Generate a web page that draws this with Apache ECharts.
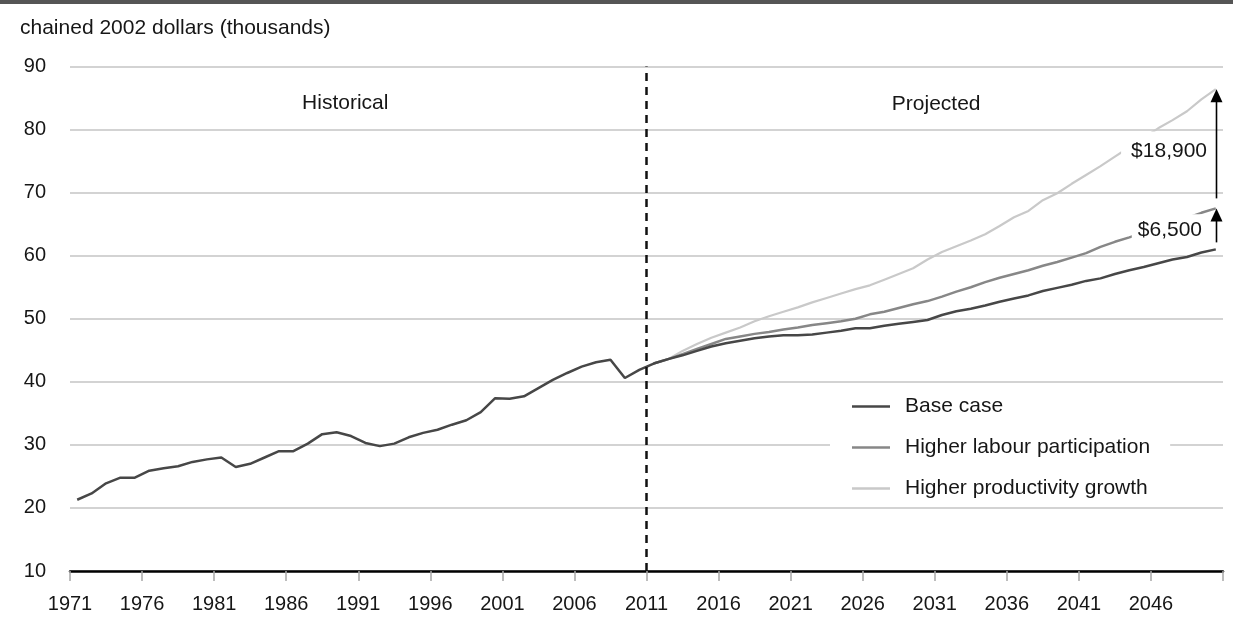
<!DOCTYPE html>
<html>
<head>
<meta charset="utf-8">
<script src="https://cdn.jsdelivr.net/npm/echarts@6/dist/echarts.min.js"></script>
<style>
  html, body { margin: 0; padding: 0; background: #fff; }
  #chart { width: 1233px; height: 617px; }
</style>
</head>
<body>
<div id="chart"></div>
<script>
// Real GDP per capita, chained 2002 dollars (thousands)
const firstYear = 1971;
const splitYear = 2011;
const tickLabels = ['1971', '1976', '1981', '1986', '1991', '1996', '2001', '2006',
  '2011', '2016', '2021', '2026', '2031', '2036', '2041', '2046'];

// 1971-2011
const historical = [21.3, 22.3, 23.9, 24.8, 24.8, 25.9, 26.3, 26.6, 27.3, 27.7,
  28.0, 26.5, 27.0, 28.0, 29.0, 29.0, 30.2, 31.7, 32.0, 31.4,
  30.3, 29.8, 30.2, 31.2, 31.9, 32.4, 33.2, 33.9, 35.2, 37.4,
  37.3, 37.7, 39.0, 40.3, 41.4, 42.4, 43.1, 43.5, 40.6, 41.9,
  42.9];

// 2012-2050 projections
const baseCase = [43.6, 44.2, 44.9, 45.6, 46.1, 46.5, 46.9, 47.2, 47.4, 47.4,
  47.5, 47.8, 48.1, 48.5, 48.5, 48.9, 49.2, 49.5, 49.8, 50.6,
  51.2, 51.6, 52.1, 52.7, 53.2, 53.7, 54.4, 54.9, 55.4, 56.0,
  56.4, 57.1, 57.7, 58.2, 58.8, 59.4, 59.8, 60.5, 61.0];
const labourParticipation = [43.6, 44.4, 45.2, 46.0, 46.8, 47.2, 47.6, 47.9, 48.3, 48.6,
  49.0, 49.3, 49.6, 50.0, 50.7, 51.1, 51.7, 52.3, 52.8, 53.5,
  54.3, 55.0, 55.8, 56.5, 57.1, 57.7, 58.4, 59.0, 59.7, 60.4,
  61.4, 62.2, 62.9, 63.7, 64.5, 65.3, 66.0, 66.8, 67.5];
const productivityGrowth = [43.6, 44.9, 46.0, 47.0, 47.8, 48.6, 49.6, 50.4, 51.1, 51.8,
  52.6, 53.3, 54.0, 54.7, 55.3, 56.2, 57.1, 58.0, 59.4, 60.6,
  61.5, 62.4, 63.4, 64.7, 66.1, 67.1, 68.8, 69.9, 71.4, 72.8,
  74.2, 75.7, 77.2, 78.7, 80.2, 81.5, 82.9, 84.8, 86.4];

const seriesNames = ['Base case', 'Higher labour participation', 'Higher productivity growth'];
const seriesColors = ['#474747', '#878787', '#c9c9c9'];
const gapLabels = ['$6,500', '$18,900'];
const periodLabels = ['Historical', 'Projected'];
const yTitle = 'chained 2002 dollars (thousands)';

const FONT = '"Liberation Sans", Arial, Helvetica, sans-serif';
const TEXT = '#161616';
const LABEL_SIZE = 21;

// Each year is plotted at its mid-point on a 0..80 year-offset axis
const toPoint = (startYear) => (v, i) => [startYear - firstYear + i + 0.5, v];
const lastHist = historical[historical.length - 1];
const baseData = historical.concat(baseCase).map(toPoint(firstYear));
const labourData = [lastHist].concat(labourParticipation).map(toPoint(splitYear));
const prodData = [lastHist].concat(productivityGrowth).map(toPoint(splitYear));

const chart = echarts.init(document.getElementById('chart'), null, { renderer: 'canvas' });

const option = {
  animation: false,
  backgroundColor: '#ffffff',
  textStyle: { fontFamily: FONT },
  grid: { left: 70, right: 10, top: 66.5, bottom: 46, containLabel: false },
  xAxis: {
    type: 'value',
    min: 0,
    max: 80,
    interval: 5,
    axisLine: { show: true, lineStyle: { color: '#000', width: 2.5 } },
    axisTick: { show: true, length: 10, lineStyle: { color: '#a8a8a8', width: 1.5 } },
    axisLabel: {
      fontFamily: FONT, fontSize: 20, color: TEXT, margin: 23,
      formatter: (v) => (tickLabels[v / 5] !== undefined ? tickLabels[v / 5] : '')
    },
    splitLine: { show: false }
  },
  yAxis: {
    type: 'value',
    min: 10,
    max: 90,
    interval: 10,
    axisLine: { show: false },
    axisTick: { show: false },
    axisLabel: { fontFamily: FONT, fontSize: 20, color: TEXT, margin: 24 },
    splitLine: { show: true, lineStyle: { color: '#c4c4c4', width: 1.5 } }
  },
  legend: {
    orient: 'vertical',
    left: 830,
    top: 387,
    padding: [8, 20, 4, 22],
    backgroundColor: '#ffffff',
    icon: 'rect',
    itemWidth: 38,
    itemHeight: 2.5,
    itemGap: 18,
    textStyle: { fontFamily: FONT, fontSize: LABEL_SIZE, color: TEXT, lineHeight: 23, padding: [0, 0, 0, 10] },
    data: seriesNames
  },
  series: [
    {
      name: seriesNames[0], type: 'line', data: baseData, symbol: 'none',
      lineStyle: { color: seriesColors[0], width: 2.5 }, itemStyle: { color: seriesColors[0] },
      z: 5,
      markLine: {
        silent: true, symbol: 'none', label: { show: false },
        lineStyle: { color: '#111', width: 2.5, type: [8, 6] },
        data: [{ xAxis: splitYear - firstYear }],
        z: 10
      }
    },
    {
      name: seriesNames[1], type: 'line', data: labourData, symbol: 'none',
      lineStyle: { color: seriesColors[1], width: 2.5 }, itemStyle: { color: seriesColors[1] }, z: 4
    },
    {
      name: seriesNames[2], type: 'line', data: prodData, symbol: 'none',
      lineStyle: { color: seriesColors[2], width: 2.2 }, itemStyle: { color: seriesColors[2] }, z: 3
    }
  ]
};

chart.setOption(option);

// Annotations placed in data space
const px = (x, y) => chart.convertToPixel({ gridIndex: 0 }, [x, y]);
const endX = baseData[baseData.length - 1][0];
const baseEnd = baseCase[baseCase.length - 1];
const labourEnd = labourParticipation[labourParticipation.length - 1];
const prodEnd = productivityGrowth[productivityGrowth.length - 1];

function arrow(fromVal, toVal, startGap) {
  const a = px(endX, fromVal);
  const b = px(endX, toVal);
  const x = Math.round(a[0]) + 0.5;
  const y0 = a[1] - startGap;
  const tip = b[1];
  return [
    { type: 'line', z: 20, shape: { x1: x, y1: y0, x2: x, y2: tip + 10 },
      style: { stroke: '#000', lineWidth: 1.6 } },
    { type: 'polygon', z: 20, shape: { points: [[x, tip], [x - 6, tip + 13], [x + 6, tip + 13]] },
      style: { fill: '#000' } }
  ];
}

function label(text, rightX, centerY, pad) {
  return {
    type: 'text', z: 15, x: rightX, y: centerY,
    style: {
      text: text, font: LABEL_SIZE + 'px ' + FONT, fill: TEXT,
      align: 'right', verticalAlign: 'middle',
      backgroundColor: '#ffffff', padding: pad
    }
  };
}

const histPos = px(19.1, 84.2);
const projPos = px(60.1, 84.1);
const w = chart.getWidth();

chart.setOption({
  graphic: [
    { type: 'rect', z: 30, shape: { x: 0, y: 0, width: w, height: 4 }, style: { fill: '#555555' } },
    { type: 'text', z: 30, x: 20, y: 28,
      style: { text: yTitle, font: LABEL_SIZE + 'px ' + FONT, fill: TEXT, align: 'left', verticalAlign: 'middle' } },
    { type: 'text', z: 15, x: histPos[0], y: histPos[1],
      style: { text: periodLabels[0], font: LABEL_SIZE + 'px ' + FONT, fill: TEXT, align: 'center', verticalAlign: 'middle' } },
    { type: 'text', z: 15, x: projPos[0], y: projPos[1],
      style: { text: periodLabels[1], font: LABEL_SIZE + 'px ' + FONT, fill: TEXT, align: 'center', verticalAlign: 'middle' } },
    ...arrow(labourEnd, prodEnd, 10),
    ...arrow(baseEnd, labourEnd, 7),
    label(gapLabels[1], 1213, px(endX, 76.6)[1], [9, 6, 9, 10]),
    label(gapLabels[0], 1208, px(endX, 64.1)[1], [5, 6, 5, 6])
  ]
});
</script>
</body>
</html>
